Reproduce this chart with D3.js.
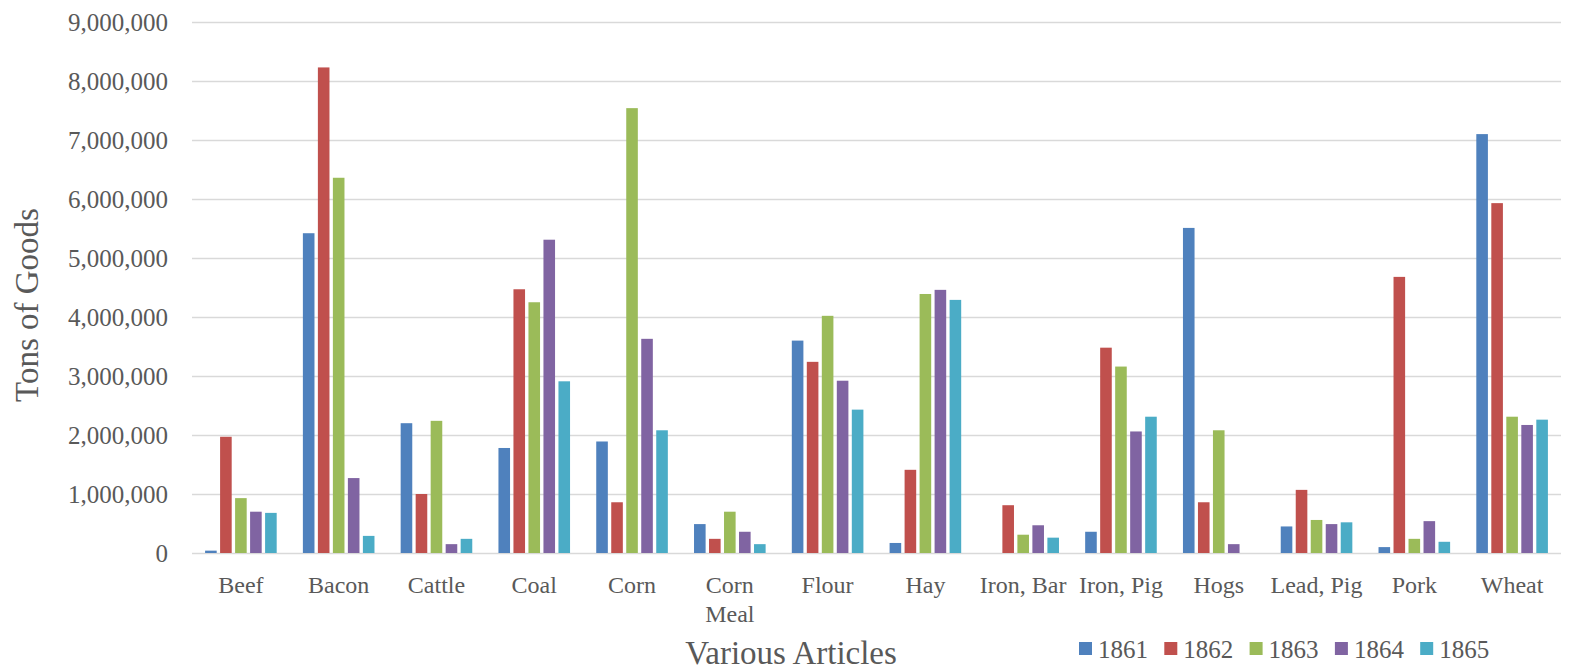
<!DOCTYPE html>
<html>
<head>
<meta charset="utf-8">
<script src="https://cdn.jsdelivr.net/npm/d3@7"></script>
<style>
  html, body { margin: 0; padding: 0; background: #fff; }
  svg text { font-family: "Liberation Serif", "Times New Roman", serif; fill: #595959; }
</style>
</head>
<body>
<div id="chart"></div>
<script>
// data
var categories = ['Beef', 'Bacon', 'Cattle', 'Coal', 'Corn', 'Corn Meal', 'Flour', 'Hay',
  'Iron, Bar', 'Iron, Pig', 'Hogs', 'Lead, Pig', 'Pork', 'Wheat'];
var years = ['1861', '1862', '1863', '1864', '1865'];
var v1861 = [40000, 5420000, 2200000, 1780000, 1890000, 490000, 3600000, 170000, 0, 360000, 5510000, 450000, 100000, 7100000];
var v1862 = [1970000, 8230000, 1000000, 4470000, 860000, 240000, 3240000, 1410000, 810000, 3480000, 860000, 1070000, 4680000, 5930000];
var v1863 = [930000, 6360000, 2240000, 4250000, 7540000, 700000, 4020000, 4390000, 310000, 3160000, 2080000, 560000, 240000, 2310000];
var v1864 = [700000, 1270000, 150000, 5310000, 3630000, 360000, 2920000, 4460000, 470000, 2060000, 150000, 490000, 540000, 2170000];
var v1865 = [680000, 290000, 240000, 2910000, 2080000, 150000, 2430000, 4290000, 260000, 2310000, 0, 520000, 190000, 2260000];
var yTicks = [0, 1000000, 2000000, 3000000, 4000000, 5000000, 6000000, 7000000, 8000000, 9000000];
var colors = ['#4f81bd', '#c0504d', '#9bbb59', '#8064a2', '#4bacc6'];

var series = [v1861, v1862, v1863, v1864, v1865];
var serif = '"Liberation Serif", "Times New Roman", serif';

var svgWidth = 1569,
  svgHeight = 671,
  margin = {top: 22, right: 8, bottom: 118, left: 192},
  width = svgWidth - margin.left - margin.right,
  height = svgHeight - margin.top - margin.bottom;

var svg = d3.select('#chart')
  .append('svg')
  .attr('width', svgWidth)
  .attr('height', svgHeight)
  .attr('font-family', serif);

var g = svg.append('g')
  .attr('transform', 'translate(' + margin.left + ',' + margin.top + ')');

var x0 = d3.scaleBand()
  .domain(categories)
  .range([0, width])
  .paddingInner(0.233)
  .paddingOuter(0.1165);

var x1 = d3.scaleBand()
  .domain(years)
  .range([0, x0.bandwidth()])
  .paddingInner(0.227)
  .paddingOuter(0.1135);

var y = d3.scaleLinear()
  .domain([0, 9000000])
  .range([height, 0]);

var color = d3.scaleOrdinal().domain(years).range(colors);

// gridlines + y labels
var yAxis = d3.axisLeft(y)
  .tickValues(yTicks)
  .tickSize(-width)
  .tickPadding(24)
  .tickFormat(d3.format(','));

g.append('g')
  .attr('class', 'y-axis')
  .call(yAxis)
  .attr('font-family', serif)
  .attr('font-size', 25)
  .call(function(sel) {
    sel.select('.domain').remove();
    sel.selectAll('line').attr('stroke', '#d9d9d9').attr('stroke-width', 1.5);
    sel.selectAll('text')
      .attr('font-family', serif)
      .attr('font-size', 25)
      .attr('fill', '#595959');
  });

// bars
var rows = categories.map(function(c, i) {
  return {
    cat: c,
    vals: years.map(function(yr, j) { return {year: yr, value: series[j][i]}; })
  };
});

var groups = g.selectAll('g.cat')
  .data(rows)
  .enter().append('g')
  .attr('class', 'cat')
  .attr('transform', function(d) { return 'translate(' + x0(d.cat) + ',0)'; });

groups.selectAll('rect')
  .data(function(d) { return d.vals; })
  .enter().append('rect')
  .attr('x', function(d) { return x1(d.year); })
  .attr('width', x1.bandwidth())
  .attr('y', function(d) { return y(d.value); })
  .attr('height', function(d) { return height - y(d.value); })
  .attr('fill', function(d) { return color(d.year); });

// category labels (wrap "Corn Meal")
var xAxis = g.append('g')
  .attr('transform', 'translate(0,' + height + ')');

xAxis.selectAll('text')
  .data(categories)
  .enter().append('text')
  .attr('x', function(d) { return x0(d) + x0.bandwidth() / 2; })
  .attr('y', 40)
  .attr('text-anchor', 'middle')
  .attr('font-size', 24)
  .each(function(d) {
    var words = d === 'Corn Meal' ? ['Corn', 'Meal'] : [d];
    var t = d3.select(this);
    words.forEach(function(w, k) {
      t.append('tspan')
        .attr('x', x0(d) + x0.bandwidth() / 2)
        .attr('dy', k === 0 ? 0 : 29)
        .text(w);
    });
  });

// axis titles
svg.append('text')
  .attr('transform', 'translate(38,' + 305 + ') rotate(-90)')
  .attr('text-anchor', 'middle')
  .attr('font-size', 33)
  .text('Tons of Goods');

svg.append('text')
  .attr('x', 791)
  .attr('y', 664)
  .attr('text-anchor', 'middle')
  .attr('font-size', 33)
  .text('Various Articles');

// legend
var legend = svg.append('g')
  .attr('transform', 'translate(1079,649)');

var item = legend.selectAll('g')
  .data(years)
  .enter().append('g')
  .attr('transform', function(d, i) { return 'translate(' + (i * 85.3) + ',0)'; });

item.append('rect')
  .attr('x', 0)
  .attr('y', -7)
  .attr('width', 13)
  .attr('height', 13)
  .attr('fill', function(d) { return color(d); });

item.append('text')
  .attr('x', 19)
  .attr('y', 9)
  .attr('font-size', 25)
  .text(function(d) { return d; });
</script>
</body>
</html>
